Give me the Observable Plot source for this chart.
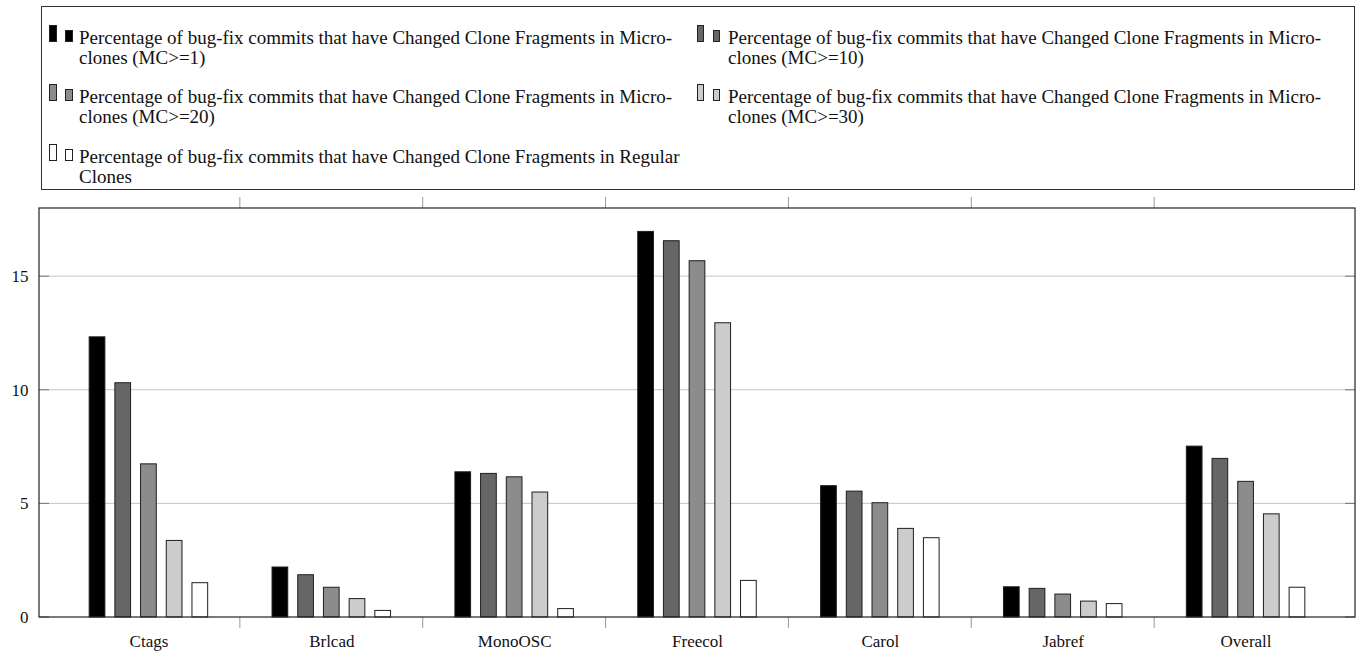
<!DOCTYPE html>
<html>
<head>
<meta charset="utf-8">
<script src="https://cdn.jsdelivr.net/npm/d3@7"></script>
<script src="https://cdn.jsdelivr.net/npm/@observablehq/plot@0.6"></script>
<style>
  html, body { margin: 0; padding: 0; background: #fff; }
  body { width: 1358px; height: 656px; position: relative; overflow: hidden; font-family: "Liberation Serif", "Times New Roman", serif; color: #111; }
  #legend { position: absolute; left: 41px; top: 6px; width: 1314px; height: 184px; border: 1.3px solid #333; box-sizing: border-box; }
  .sw { position: absolute; width: 7.5px; border: 1px solid #222; box-sizing: border-box; }
  .lt { position: absolute; font-size: 19px; line-height: 20px; white-space: nowrap; }
  #chart { position: absolute; left: 0; top: 190px; }
</style>
</head>
<body>
<div id="legend"></div>
<div id="chart"></div>
<script>
// ---- data ----
const categories = ["Ctags", "Brlcad", "MonoOSC", "Freecol", "Carol", "Jabref", "Overall"];
const seriesKeys = ["MC>=1", "MC>=10", "MC>=20", "MC>=30", "Regular"];
const seriesLabels = [
  ["Percentage of bug-fix commits that have Changed Clone Fragments in Micro-", "clones (MC>=1)"],
  ["Percentage of bug-fix commits that have Changed Clone Fragments in Micro-", "clones (MC>=10)"],
  ["Percentage of bug-fix commits that have Changed Clone Fragments in Micro-", "clones (MC>=20)"],
  ["Percentage of bug-fix commits that have Changed Clone Fragments in Micro-", "clones (MC>=30)"],
  ["Percentage of bug-fix commits that have Changed Clone Fragments in Regular", "Clones"]
];
const seriesColors = ["#000000", "#666666", "#8c8c8c", "#cccccc", "#ffffff"];
const mc1     = [12.33, 2.20, 6.39, 16.97, 5.78, 1.33, 7.52];
const mc10    = [10.31, 1.86, 6.32, 16.56, 5.54, 1.26, 6.98];
const mc20    = [6.74, 1.31, 6.17, 15.68, 5.03, 1.01, 5.97];
const mc30    = [3.37, 0.81, 5.50, 12.95, 3.90, 0.70, 4.54];
const regular = [1.51, 0.29, 0.37, 1.61, 3.49, 0.59, 1.31];
const yTicks = [0, 5, 10, 15];

// ---- build table ----
const seriesValues = [mc1, mc10, mc20, mc30, regular];
const data = [];
categories.forEach((c, i) => {
  seriesKeys.forEach((s, j) => data.push({category: c, series: s, value: seriesValues[j][i]}));
});

// ---- legend (HTML) ----
const legend = document.getElementById("legend");
const colSw = [7, 654.5], colText = [37, 686];
const rowTop = [21, 80, 139.5];
seriesKeys.forEach((s, i) => {
  const col = i % 2, row = Math.floor(i / 2);
  const top = rowTop[row];
  const a = document.createElement("div");
  a.className = "sw";
  a.style.cssText = `left:${colSw[col]}px;top:${top - 3}px;height:17px;background:${seriesColors[i]}`;
  legend.appendChild(a);
  const b = document.createElement("div");
  b.className = "sw";
  b.style.cssText = `left:${colSw[col] + 16}px;top:${top + 2}px;height:12px;background:${seriesColors[i]}`;
  legend.appendChild(b);
  const t = document.createElement("div");
  t.className = "lt";
  t.style.left = colText[col] + "px";
  t.style.top = top + "px";
  seriesLabels[i].forEach((line, k) => {
    if (k) t.appendChild(document.createElement("br"));
    t.appendChild(document.createTextNode(line));
  });
  legend.appendChild(t);
});

// ---- chart ----
const W = 1358, H = 466;
const mL = 39, mR = 3, mT = 18, mB = 39;
const chart = Plot.plot({
  width: W, height: H,
  marginLeft: mL, marginRight: mR, marginTop: mT, marginBottom: mB,
  style: {fontFamily: "'Liberation Serif', serif", fontSize: "17px", background: "white", color: "#111"},
  fx: {domain: categories, round: false, paddingInner: 0, paddingOuter: 0.0984, label: null, axis: "bottom", tickSize: 0, tickPadding: 17},
  x: {domain: seriesKeys, round: false, paddingInner: 0.389, paddingOuter: 1.252, axis: null},
  y: {domain: [0, 18], ticks: yTicks, tickSize: 0, tickPadding: 29, label: null},
  color: {domain: seriesKeys, range: seriesColors},
  marks: [
    Plot.barY(data, {fx: "category", x: "series", y: "value", fill: "series", stroke: "#1e1e1e", strokeWidth: 1})
  ]
});
document.getElementById("chart").appendChild(chart);

// decorations derived from the chart's own scales
const svg = d3.select(chart);
const fx = chart.scale("fx"), y = chart.scale("y");
const x0 = mL, x1 = W - mR, yTop = mT, yBot = H - mB;
const under = svg.insert("g", ":first-child");
yTicks.filter(t => t > 0).forEach(t => {
  const yy = y.apply(t);
  under.append("line").attr("x1", x0).attr("x2", x1).attr("y1", yy).attr("y2", yy)
    .attr("stroke", "#c4c4c4").attr("stroke-width", 1);
});
const over = svg.append("g");
yTicks.forEach(t => {
  const yy = y.apply(t);
  over.append("line").attr("x1", x0).attr("x2", x0 + 10).attr("y1", yy).attr("y2", yy).attr("stroke", "#777");
  over.append("line").attr("x1", x1 - 10).attr("x2", x1).attr("y1", yy).attr("y2", yy).attr("stroke", "#777");
});
categories.slice(1).forEach(c => {
  const xx = fx.apply(c);
  over.append("line").attr("x1", xx).attr("x2", xx).attr("y1", yTop - 11).attr("y2", yTop).attr("stroke", "#999");
  over.append("line").attr("x1", xx).attr("x2", xx).attr("y1", yBot).attr("y2", yBot + 11).attr("stroke", "#999");
});
over.append("rect").attr("x", x0).attr("y", yTop).attr("width", x1 - x0).attr("height", yBot - yTop)
  .attr("fill", "none").attr("stroke", "#222").attr("stroke-width", 1.2);
</script>
</body>
</html>
